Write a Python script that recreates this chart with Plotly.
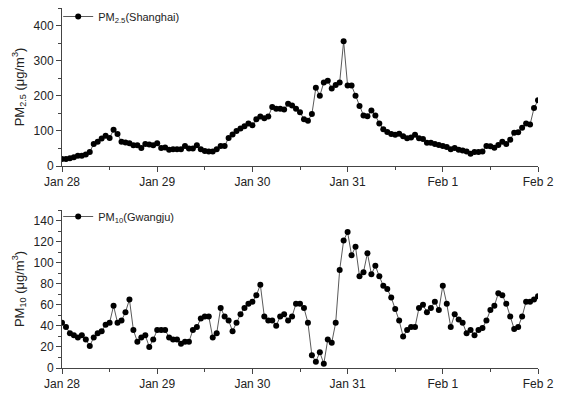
import pandas as pd
import plotly.graph_objects as go

# hourly timestamps, Jan 28 00:00 -> Feb 2 00:00
start_time = "2015-01-28 00:00"
n_hours = 121
times = pd.date_range(start_time, periods=n_hours, freq="h")

pm25_shanghai = [
    20, 20, 22, 25, 29, 29, 33, 40, 63, 69, 78, 86, 80, 103, 91, 69, 67, 65, 59, 59, 51, 63, 61, 59,
    65, 51, 53, 46, 48, 48, 48, 57, 50, 50, 59, 48, 43, 41, 41, 48, 57, 57, 80, 90, 100, 107, 113, 121,
    116, 133, 141, 136, 141, 168, 163, 163, 161, 177, 172, 163, 153, 133, 129, 148, 223, 200, 238, 243, 221, 231, 238, 355,
    229, 229, 200, 171, 144, 142, 158, 144, 121, 105, 97, 91, 89, 92, 85, 79, 81, 89, 79, 77, 66, 66, 63, 60,
    57, 54, 48, 51, 46, 44, 41, 35, 40, 40, 41, 57, 56, 52, 60, 69, 63, 75, 95, 96, 109, 121, 118, 165,
    187,
]

pm10_gwangju = [
    43, 39, 33, 31, 29, 31, 27, 21, 29, 33, 35, 41, 43, 59, 43, 45, 53, 65, 36, 25, 29, 31, 20, 27,
    36, 36, 36, 29, 27, 27, 23, 25, 25, 36, 39, 47, 49, 49, 29, 33, 57, 49, 45, 35, 43, 51, 57, 61,
    63, 69, 79, 49, 45, 45, 40, 49, 51, 45, 49, 61, 61, 57, 43, 12, 6, 15, 4, 27, 24, 43, 93, 121,
    129, 107, 115, 87, 91, 109, 89, 97, 87, 78, 75, 67, 56, 45, 30, 36, 39, 39, 57, 60, 53, 57, 63, 55,
    78, 61, 39, 51, 46, 43, 33, 36, 31, 36, 38, 45, 55, 59, 71, 69, 61, 49, 37, 39, 49, 63, 63, 65,
    68,
]

name_top = "PM<sub>2.5</sub>(Shanghai)"
name_bottom = "PM<sub>10</sub>(Gwangju)"
ytitle_top = "PM<sub>2.5</sub> (μg/m<sup>3</sup>)"
ytitle_bottom = "PM<sub>10</sub> (μg/m<sup>3</sup>)"
x_range = ["2015-01-28 00:00", "2015-02-02 00:00"]
y_range_top = [0, 450]
y_range_bottom = [0, 150]

FONT = "Arial, Liberation Sans, sans-serif"
LINE_COL = "#5a5a5a"
AX_COL = "#444444"

fig = go.Figure()
fig.add_trace(go.Scatter(
    x=times, y=pm25_shanghai, mode="lines+markers", name=name_top,
    line=dict(color=LINE_COL, width=1), marker=dict(color="black", size=6),
    xaxis="x", yaxis="y", legend="legend",
))
fig.add_trace(go.Scatter(
    x=times, y=pm10_gwangju, mode="lines+markers", name=name_bottom,
    line=dict(color=LINE_COL, width=1), marker=dict(color="black", size=6),
    xaxis="x2", yaxis="y2", legend="legend2",
))

W, H = 570, 396
ml, mr, mt, mb = 62, 32, 0, 28
ph = H - mt - mb
# pixel rows (from top) of plot boundaries
top1, bot1 = 8, 166
top2, bot2 = 210, 368
def py(p):
    return (H - mb - p) / ph

xaxis_common = dict(
    type="date", range=x_range, showline=True, linecolor=AX_COL, linewidth=1,
    ticks="outside", ticklen=5, tickcolor=AX_COL, dtick=86400000, tickformat="%b %-d",
    showgrid=False, zeroline=False, tickfont=dict(family=FONT, size=12, color="#222"),
    minor=dict(dtick=43200000, ticks="outside", ticklen=3, tickcolor=AX_COL, showgrid=False),
)
yaxis_common = dict(
    showline=True, linecolor=AX_COL, linewidth=1, ticks="outside", ticklen=5, tickcolor=AX_COL,
    showgrid=False, zeroline=False, tickfont=dict(family=FONT, size=12, color="#222"),
    title_font=dict(family=FONT, size=13, color="#222"), title_standoff=6,
)

fig.update_layout(
    width=W, height=H, margin=dict(l=ml, r=mr, t=mt, b=mb, autoexpand=False),
    paper_bgcolor="white", plot_bgcolor="white", showlegend=True,
    xaxis=dict(**xaxis_common, domain=[0, 1], anchor="y"),
    xaxis2=dict(**xaxis_common, domain=[0, 1], anchor="y2"),
    yaxis=dict(**yaxis_common, domain=[py(bot1), py(top1)], range=y_range_top, dtick=100,
               minor=dict(dtick=50, ticks="outside", ticklen=3, tickcolor=AX_COL, showgrid=False),
               title_text=ytitle_top, anchor="x"),
    yaxis2=dict(**yaxis_common, domain=[py(bot2), py(top2)], range=y_range_bottom, dtick=20,
                minor=dict(dtick=10, ticks="outside", ticklen=3, tickcolor=AX_COL, showgrid=False),
                title_text=ytitle_bottom, anchor="x2"),
    legend=dict(x=-0.008, y=py(2), xanchor="left", yanchor="top", bgcolor="rgba(0,0,0,0)",
                font=dict(family=FONT, size=11, color="#222"), borderwidth=0),
    legend2=dict(x=-0.008, y=py(202), xanchor="left", yanchor="top", bgcolor="rgba(0,0,0,0)",
                 font=dict(family=FONT, size=11, color="#222"), borderwidth=0),
)

fig.write_html(
    "out.html",
    config={"displayModeBar": False},
    post_script="document.body.style.margin='0';document.body.style.overflow='hidden';",
)
